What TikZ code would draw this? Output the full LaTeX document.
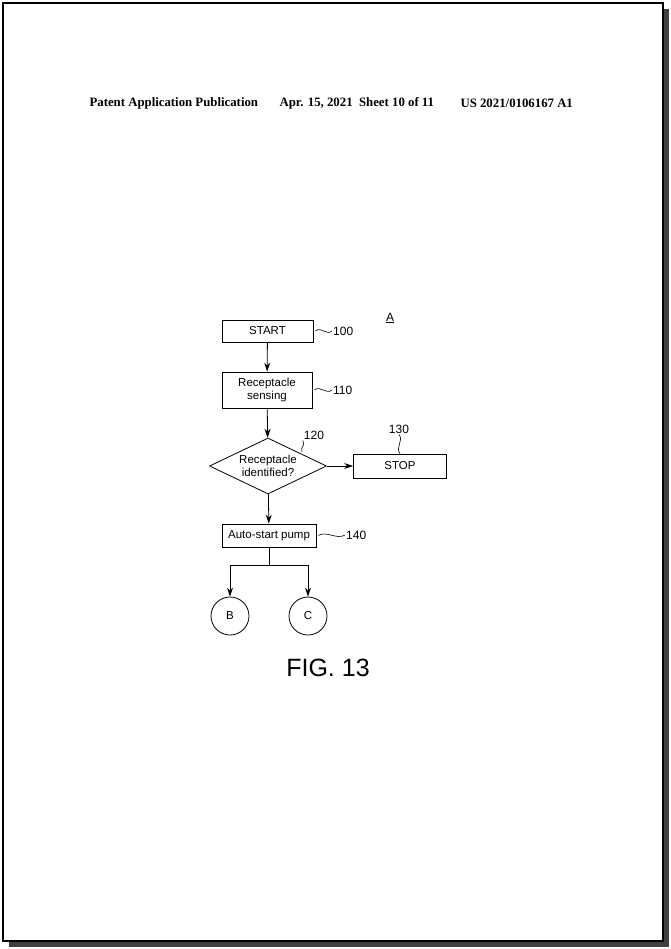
\documentclass[tikz,border=0pt]{standalone}
\usepackage{fontspec}
\setmainfont{Liberation Serif}
\setsansfont{Liberation Sans}
\usetikzlibrary{arrows.meta,positioning,shapes.geometric,decorations.pathmorphing}

\begin{document}
\begin{tikzpicture}[
    x=1pt, y=-1pt,
    box/.style={draw, line width=0.8pt, minimum height=22pt, align=center, font=\sffamily\fontsize{11.5}{12.5}\selectfont, inner sep=1pt},
    dec/.style={draw, diamond, aspect=2.1, line width=0.8pt, minimum width=117pt, minimum height=56pt, inner sep=0pt, align=center, font=\sffamily\fontsize{11.5}{12.5}\selectfont},
    conn/.style={draw, circle, line width=0.8pt, minimum size=38pt, font=\sffamily\fontsize{11.5}{12.5}\selectfont},
    arrow/.style={-{Stealth[length=9pt,width=6pt]}, line width=0.8pt},
    ref/.style={font=\sffamily\fontsize{12}{13}\selectfont, inner sep=1pt},
    lead/.style={line width=0.6pt},
]
    % page
    \useasboundingbox (0,0) rectangle (670,949);
    \fill[black!75] (9,9) rectangle (669,947);
    \draw[fill=white, line width=1.5pt] (3,3) rectangle (663,941);

    % header
    \node[font=\bfseries\fontsize{12.8}{14}\selectfont, anchor=west] (pub) at (86,103) {Patent Application Publication};
    \node[font=\bfseries\fontsize{12.8}{14}\selectfont, anchor=west] (date) at (276,103) {Apr. 15, 2021\ \ Sheet 10 of 11};
    \node[font=\bfseries\fontsize{12.8}{14}\selectfont, anchor=west] (num) at (457,103) {US 2021/0106167 A1};

    % flow
    \node[box, minimum width=91pt] (start) at (267.5,331) {START};
    \node[box, minimum width=90pt, minimum height=36pt] (sense) at (267,390) {Receptacle\\sensing};
    \node[dec] (ident) at (268,466) {Receptacle\\identified?};
    \node[box, minimum width=93pt, minimum height=24pt] (stop) at (400,466) {STOP};
    \node[box, minimum width=94pt, minimum height=23pt] (pump) at (269,535.5) {Auto-start pump};
    \node[conn] (b) at (230,616) {B};
    \node[conn] (c) at (308,616) {C};
    \coordinate (split) at (269,565);

    \draw[arrow] (start) -- (sense);
    \draw[arrow] (sense) -- (ident);
    \draw[arrow] (ident) -- (stop);
    \draw[arrow] (ident) -- (pump);
    \draw[line width=0.8pt] (pump) -- (split);
    \draw[arrow] (split) -| (b);
    \draw[arrow] (split) -| (c);

    % reference numerals
    \node[ref, anchor=west] (r100) at (332,331) {100};
    \node[ref, anchor=west] (r110) at (332,390) {110};
    \node[ref] (r120) at (314,435) {120};
    \node[ref] (r130) at (399,429) {130};
    \node[ref, anchor=west] (r140) at (345,535) {140};
    \draw[lead] (start.east) ++(2,0) .. controls +(6,-5) and +(-6,5) .. (r100.west);
    \draw[lead] (sense.east) ++(2,0) .. controls +(6,-5) and +(-6,5) .. (r110.west);
    \draw[lead] (pump.east) ++(2,0) .. controls +(8,-5) and +(-8,5) .. (r140.west);
    \draw[lead] (302,452) .. controls (300,446) and (306,446) .. (r120.south west);
    \draw[lead] (stop.north) .. controls +(-5,-6) and +(5,6) .. (r130.south);

    \node[font=\sffamily\fontsize{12}{13}\selectfont] (a) at (390,318) {\underline{A}};
    \node[font=\sffamily\fontsize{25}{28}\selectfont] (fig) at (328,668) {FIG. 13};
\end{tikzpicture}
\end{document}
